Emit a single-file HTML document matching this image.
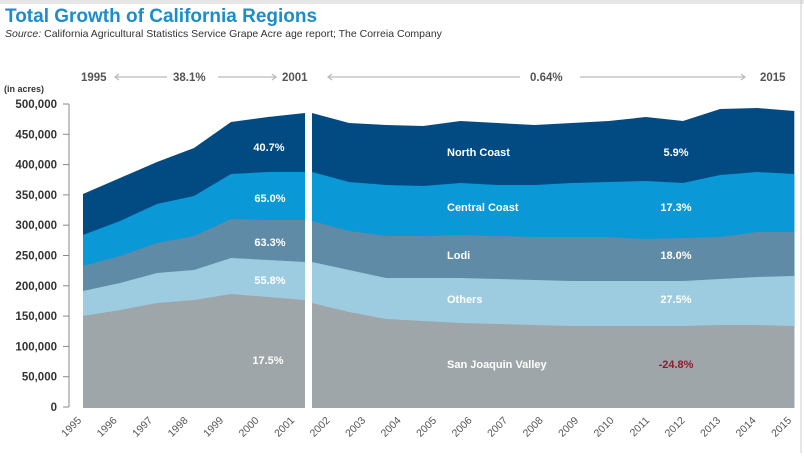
<!DOCTYPE html>
<html><head><meta charset="utf-8"><style>
body{margin:0;background:#fff;width:804px;height:453px;overflow:hidden;font-family:"Liberation Sans",sans-serif}
</style></head><body>
<svg id="s" width="804" height="453" xmlns="http://www.w3.org/2000/svg" font-family="Liberation Sans, sans-serif">
<rect width="804" height="4" fill="#e6e6e6"/>
<line x1="801" y1="0" x2="801" y2="453" stroke="#ccc"/>
<text x="5" y="22" font-size="19" font-weight="bold" fill="#1b8dcc">Total Growth of California Regions</text>
<text x="5" y="37" font-size="10.5" fill="#333"><tspan font-style="italic">Source:</tspan> California Agricultural Statistics Service Grape Acre age report; The Correia Company</text>
<g font-size="11.5" font-weight="bold" fill="#555">
<text x="81" y="81">1995</text>
<text x="173" y="81">38.1%</text>
<text x="282" y="81">2001</text>
<text x="530" y="81">0.64%</text>
<text x="760" y="81">2015</text>
</g>
<g stroke="#bbb" stroke-width="1.2" fill="none">
<path d="M115 77H167M119 74L115 77L119 80M218 77H276M272 74L276 77L272 80M328 77H520M332 74L328 77L332 80M580 77H745M741 74L745 77L741 80"/>
</g>
<text x="4" y="92" font-size="9" font-weight="bold" fill="#333">(in acres)</text>
<g id="yl" font-size="11.5" font-weight="bold" fill="#333" text-anchor="end"></g>
<g id="areas"></g>
<g id="xl" font-size="10.5" fill="#555"></g>
<g font-size="11" font-weight="bold" fill="#fff">
<text x="269" y="151" text-anchor="middle">40.7%</text>
<text x="270" y="202" text-anchor="middle">65.0%</text>
<text x="270" y="246" text-anchor="middle">63.3%</text>
<text x="270" y="284" text-anchor="middle">55.8%</text>
<text x="268" y="364" text-anchor="middle">17.5%</text>
<text x="447" y="156">North Coast</text>
<text x="447" y="211">Central Coast</text>
<text x="447" y="259">Lodi</text>
<text x="447" y="303">Others</text>
<text x="447" y="368">San Joaquin Valley</text>
<text x="676" y="156" text-anchor="middle">5.9%</text>
<text x="676" y="211" text-anchor="middle">17.3%</text>
<text x="676" y="259" text-anchor="middle">18.0%</text>
<text x="676" y="303" text-anchor="middle">27.5%</text>
<text x="676" y="368" text-anchor="middle" fill="#8e1c2c">-24.8%</text>
</g>
</svg>
<script>
var NS="http://www.w3.org/2000/svg",B=408;
function el(t,a,p){var e=document.createElementNS(NS,t);for(var k in a)e.setAttribute(k,a[k]);p.appendChild(e);return e;}
var yl=document.getElementById('yl');
for(var i=0;i<=10;i++){var y=407-i*30.3;var t=el('text',{x:57,y:y+4},yl);t.textContent=i==0?'0':(i*50000).toLocaleString('en-US');el('line',{x1:63,y1:y,x2:69,y2:y,stroke:'#888'},yl);}
el('line',{x1:69,y1:104,x2:69,y2:407,stroke:'#888'},yl);
var L={tot:[194,178,162,148,122,117,113],cc:[235,221,204,196,174,172,172],lo:[266,256,243,236,219,220,220],ot:[291,283,273,270,258,260,262],sj:[316,310,303,300,294,297,300]};
var R={tot:[113,123,125,126,121,123,125,123,121,117,121,109,108,111],cc:[172,182,185,186,183,185,185,183,182,181,183,175,172,174],lo:[221,231,236,236,235,236,237,237,237,239,238,237,232,232],ot:[262,270,278,278,278,279,280,281,281,281,281,279,277,276],sj:[303,312,319,321,323,324,325,326,326,326,326,325,325,326]};
var cols={tot:'#024a82',cc:'#0a98d7',lo:'#5f8ba6',ot:'#9dcce1',sj:'#9fa6a9'};
var g=document.getElementById('areas');
function panel(D,x0,dx){var keys=['tot','cc','lo','ot','sj'];keys.forEach(function(k){var a=D[k],p=[];for(var i=0;i<a.length;i++)p.push((x0+i*dx)+','+a[i]);p.push((x0+(a.length-1)*dx)+','+B);p.push(x0+','+B);el('polygon',{points:p.join(' '),fill:cols[k]},g);});}
panel(L,83,37);panel(R,312,37.1);
var xl=document.getElementById('xl');
for(var i=0;i<21;i++){var yr=1995+i;var x=82+i*35.5,y=421;var t=el('text',{x:x,y:y,'text-anchor':'end',transform:'rotate(-45 '+x+' '+y+')'},xl);t.textContent=yr;}
</script>
</body></html>
